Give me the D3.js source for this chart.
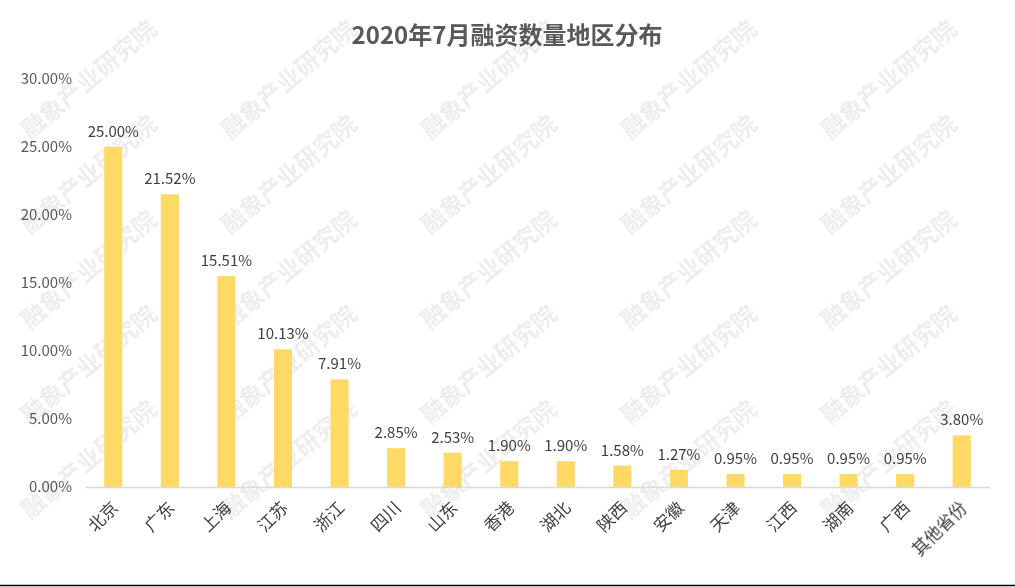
<!DOCTYPE html>
<html><head><meta charset="utf-8">
<script src="https://cdn.jsdelivr.net/npm/d3@7"></script>
<style>body{margin:0;background:#fff}</style>
</head><body>
<svg id="chart" width="1015" height="587"></svg>
<script>
var regions = ["北京","广东","上海","江苏","浙江","四川","山东","香港","湖北","陕西","安徽","天津","江西","湖南","广西","其他省份"];
var shares = [25.00,21.52,15.51,10.13,7.91,2.85,2.53,1.90,1.90,1.58,1.27,0.95,0.95,0.95,0.95,3.80];
var yTicks = [0,5,10,15,20,25,30];

var svg = d3.select("#chart");
var font = "'Microsoft YaHei','Noto Sans CJK SC',sans-serif";

// watermark
var wm = svg.append("g").attr("fill","#d9d9d9").attr("opacity",0.45)
    .attr("font-family",font).attr("font-size",24).attr("font-weight","bold");
for (var r = 0; r < 5; r++) {
    for (var c = 0; c < 5; c++) {
        wm.append("text").attr("transform","translate("+(30+c*200)+","+(140+r*95)+") rotate(-40)").text("融象产业研究院");
    }
}

var x = d3.scaleBand().domain(regions).range([85, 990]).paddingInner(0.68).paddingOuter(0.34);
var y = d3.scaleLinear().domain([0,30]).range([487, 79]);

svg.append("text").attr("x",507).attr("y",44).attr("text-anchor","middle")
    .attr("font-family",font).attr("font-size",24).attr("font-weight","bold").attr("fill","#595959")
    .text("2020年7月融资数量地区分布");

var ya = svg.append("g").attr("transform","translate(75,0)")
    .call(d3.axisLeft(y).tickValues(yTicks).tickSize(0).tickFormat(d => d.toFixed(2)+"%"));
ya.select(".domain").remove();
ya.selectAll("text").attr("font-family",font).attr("font-size",15).attr("fill","#595959");

svg.selectAll("rect.bar").data(shares).enter().append("rect").attr("class","bar")
    .attr("x",(d,i) => x(regions[i])).attr("width",x.bandwidth())
    .attr("y",d => y(d)).attr("height",d => y(0)-y(d)).attr("fill","#FFD966");

svg.selectAll("text.val").data(shares).enter().append("text").attr("class","val")
    .attr("x",(d,i) => x(regions[i])+x.bandwidth()/2).attr("y",d => y(d)-10)
    .attr("text-anchor","middle").attr("font-family",font).attr("font-size",15).attr("fill","#404040")
    .text(d => d.toFixed(2)+"%");

var xa = svg.append("g").attr("transform","translate(0,487)")
    .call(d3.axisBottom(x).tickSize(0).tickPadding(0));
xa.select(".domain").attr("stroke","#d9d9d9").attr("stroke-width",1.5);
xa.selectAll("text").attr("font-family",font).attr("font-size",17).attr("fill","#404040")
    .attr("text-anchor","end").attr("dy",0)
    .attr("transform","translate(6,22) rotate(-45)");

svg.append("line").attr("x1",0).attr("x2",1015).attr("y1",585.5).attr("y2",585.5).attr("stroke","#000").attr("stroke-width",1.5);
</script>
</body></html>
